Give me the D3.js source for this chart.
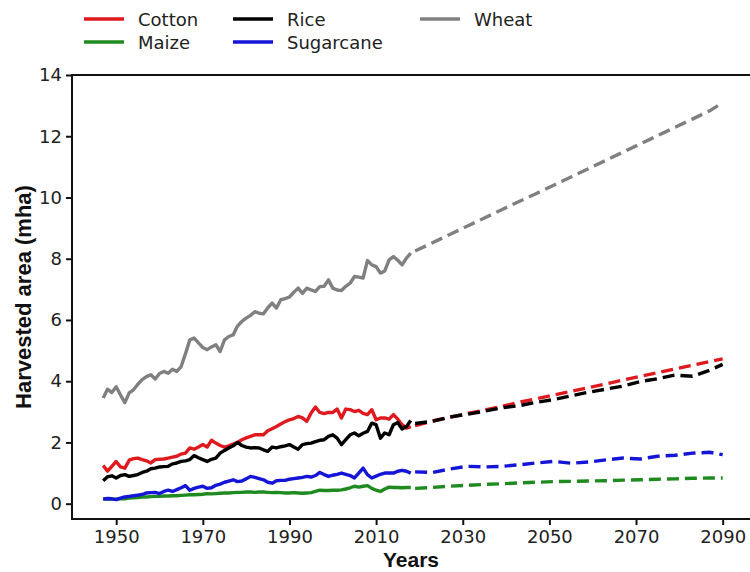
<!DOCTYPE html>
<html lang="en">
<style>
body { margin: 0; background: #fff; }
.tick text { font-family: "DejaVu Sans", sans-serif; fill: #222; }
.axis-title { font-family: "Liberation Sans", Arial, sans-serif; font-weight: bold; fill: #111; }
.legend text { font-family: "DejaVu Sans", sans-serif; fill: #222; }
</style>
<head>
    <title>Harvested area</title>
    <script src="https://d3js.org/d3.v7.min.js"></script>
</head>
<body>
<div id="main"></div>
<script type="text/javascript">
    const width = 750;
    const height = 572;
    const plotLeft = 72;
    const plotRight = 753;
    const plotTop = 75;
    const plotBottom = 519;

    // observed years 1947-2018
    const histYears = d3.range(1947, 2019);
    const projYears = [2019, 2023, 2027, 2031, 2035, 2039, 2043, 2047, 2051, 2055, 2059, 2063, 2067, 2071, 2075, 2079, 2083, 2087, 2090];

    const seriesNames = ['Cotton', 'Maize', 'Rice', 'Sugarcane', 'Wheat'];
    const seriesColors = ['#de1a1e', '#1f8a1f', '#000000', '#1515d8', '#808080'];

    const cottonHist = [1.25, 1.06, 1.22, 1.38, 1.20, 1.16, 1.42, 1.47, 1.49, 1.44,
        1.40, 1.33, 1.44, 1.45, 1.46, 1.49, 1.52, 1.55, 1.62, 1.65,
        1.82, 1.78, 1.85, 1.93, 1.85, 2.07, 1.98, 1.90, 1.85, 1.89,
        1.95, 2.00, 2.09, 2.15, 2.20, 2.25, 2.25, 2.25, 2.38, 2.45,
        2.52, 2.60, 2.68, 2.74, 2.78, 2.85, 2.80, 2.69, 2.96, 3.16,
        2.98, 2.94, 2.98, 2.98, 3.09, 2.80, 3.09, 3.07, 3.01, 3.05,
        2.95, 2.91, 3.07, 2.74, 2.80, 2.80, 2.76, 2.91, 2.76, 2.58,
        2.47, 2.52];
    const maizeHist = [0.15, 0.16, 0.15, 0.15, 0.16, 0.16, 0.18, 0.19, 0.20, 0.22,
        0.22, 0.23, 0.24, 0.24, 0.25, 0.25, 0.26, 0.26, 0.27, 0.28,
        0.29, 0.29, 0.30, 0.31, 0.33, 0.32, 0.33, 0.34, 0.35, 0.35,
        0.36, 0.37, 0.37, 0.38, 0.38, 0.37, 0.38, 0.38, 0.37, 0.36,
        0.37, 0.36, 0.35, 0.35, 0.36, 0.35, 0.34, 0.35, 0.36, 0.40,
        0.44, 0.43, 0.43, 0.44, 0.44, 0.45, 0.48, 0.52, 0.57, 0.54,
        0.57, 0.59, 0.50, 0.44, 0.40, 0.48, 0.54, 0.53, 0.53, 0.52,
        0.53, 0.53];
    const riceHist = [0.75, 0.88, 0.91, 0.84, 0.92, 0.95, 0.89, 0.92, 0.95, 1.02,
        1.06, 1.14, 1.16, 1.20, 1.21, 1.22, 1.30, 1.33, 1.38, 1.40,
        1.44, 1.57, 1.50, 1.44, 1.38, 1.45, 1.49, 1.65, 1.74, 1.82,
        1.89, 2.00, 1.90, 1.85, 1.82, 1.83, 1.82, 1.76, 1.71, 1.85,
        1.82, 1.86, 1.89, 1.93, 1.85, 1.78, 1.93, 1.96, 1.98, 2.03,
        2.07, 2.09, 2.20, 2.25, 2.14, 1.93, 2.09, 2.25, 2.31, 2.22,
        2.30, 2.36, 2.63, 2.58, 2.14, 2.31, 2.25, 2.58, 2.65, 2.44,
        2.52, 2.72];
    const sugarcaneHist = [0.15, 0.17, 0.16, 0.13, 0.18, 0.22, 0.24, 0.26, 0.28, 0.30,
        0.35, 0.36, 0.37, 0.33, 0.40, 0.44, 0.40, 0.46, 0.52, 0.59,
        0.44, 0.50, 0.54, 0.57, 0.50, 0.52, 0.60, 0.64, 0.70, 0.74,
        0.78, 0.72, 0.74, 0.81, 0.89, 0.86, 0.82, 0.78, 0.70, 0.67,
        0.75, 0.76, 0.76, 0.80, 0.82, 0.84, 0.86, 0.89, 0.87, 0.92,
        1.02, 0.95, 0.89, 0.93, 0.96, 1.00, 0.96, 0.92, 0.84, 1.00,
        1.16, 0.95, 0.84, 0.90, 0.96, 1.00, 1.00, 1.00, 1.06, 1.09,
        1.06, 1.00];
    const wheatHist = [3.45, 3.74, 3.63, 3.82, 3.55, 3.30, 3.62, 3.72, 3.90, 4.05,
        4.15, 4.21, 4.07, 4.25, 4.32, 4.26, 4.39, 4.32, 4.48, 4.90,
        5.35, 5.41, 5.25, 5.10, 5.03, 5.12, 5.19, 4.97, 5.35, 5.46,
        5.51, 5.80, 5.95, 6.06, 6.15, 6.27, 6.22, 6.20, 6.40, 6.55,
        6.39, 6.66, 6.70, 6.75, 6.90, 7.04, 6.87, 7.04, 6.98, 6.93,
        7.09, 7.10, 7.31, 7.04, 6.98, 6.96, 7.10, 7.20, 7.42, 7.40,
        7.37, 7.94, 7.80, 7.74, 7.53, 7.60, 7.96, 8.07, 7.95, 7.80,
        8.02, 8.18];

    // projections 2019-2090
    const cottonProj = [2.55, 2.70, 2.82, 2.94, 3.06, 3.18, 3.31, 3.43, 3.55, 3.67, 3.79, 3.91, 4.04, 4.16, 4.28, 4.40, 4.52, 4.64, 4.73];
    const maizeProj = [0.50, 0.53, 0.57, 0.60, 0.63, 0.65, 0.68, 0.70, 0.72, 0.73, 0.74, 0.75, 0.77, 0.78, 0.80, 0.81, 0.83, 0.84, 0.84];
    const riceProj = [2.62, 2.69, 2.83, 2.92, 3.02, 3.13, 3.20, 3.31, 3.40, 3.52, 3.64, 3.74, 3.84, 3.99, 4.08, 4.20, 4.16, 4.36, 4.55];
    const sugarcaneProj = [1.04, 1.02, 1.13, 1.22, 1.20, 1.22, 1.27, 1.33, 1.38, 1.32, 1.36, 1.43, 1.49, 1.46, 1.55, 1.58, 1.65, 1.68, 1.60];
    const wheatProj = [8.25, 8.52, 8.79, 9.06, 9.33, 9.60, 9.87, 10.13, 10.40, 10.67, 10.94, 11.21, 11.48, 11.75, 12.02, 12.29, 12.56, 12.83, 13.10];

    const histValues = [cottonHist, maizeHist, riceHist, sugarcaneHist, wheatHist];
    const projValues = [cottonProj, maizeProj, riceProj, sugarcaneProj, wheatProj];

    const xTicks = [1950, 1970, 1990, 2010, 2030, 2050, 2070, 2090];
    const yTicks = [0, 2, 4, 6, 8, 10, 12, 14];

    const svg = d3.select('#main')
        .append('svg')
        .attr('width', width)
        .attr('height', height);

    const xScale = d3.scaleLinear()
        .domain([1939.8, 2097])
        .range([plotLeft, plotRight]);

    const yScale = d3.scaleLinear()
        .domain([-0.5, 14])
        .range([plotBottom, plotTop]);

    svg.append('clipPath')
        .attr('id', 'plotClip')
        .append('rect')
        .attr('x', plotLeft)
        .attr('y', plotTop)
        .attr('width', plotRight - plotLeft)
        .attr('height', plotBottom - plotTop);

    const line = d3.line()
        .x(d => xScale(d[0]))
        .y(d => yScale(d[1]));

    const lines = svg.append('g').attr('clip-path', 'url(#plotClip)');

    seriesNames.forEach((name, i) => {
        lines.append('path')
            .datum(histYears.map((yr, j) => [yr, histValues[i][j]]))
            .attr('d', line)
            .attr('fill', 'none')
            .attr('stroke', seriesColors[i])
            .attr('stroke-width', 3.4)
            .attr('stroke-linejoin', 'round');
        lines.append('path')
            .datum(projYears.map((yr, j) => [yr, projValues[i][j]]))
            .attr('d', line)
            .attr('fill', 'none')
            .attr('stroke', seriesColors[i])
            .attr('stroke-width', 3.4)
            .attr('stroke-dasharray', '12,6');
    });

    // axes
    const xAxis = d3.axisBottom(xScale)
        .tickValues(xTicks)
        .tickFormat(d => d)
        .tickSize(6)
        .tickPadding(5);

    const yAxis = d3.axisLeft(yScale)
        .tickValues(yTicks)
        .tickSize(6)
        .tickPadding(4);

    const gx = svg.append('g')
        .attr('transform', `translate(0, ${plotBottom})`)
        .call(xAxis);
    const gy = svg.append('g')
        .attr('transform', `translate(${plotLeft}, 0)`)
        .call(yAxis);

    [gx, gy].forEach(g => {
        g.select('.domain').remove();
        g.selectAll('.tick line').attr('stroke', '#111').attr('stroke-width', 2);
        g.selectAll('.tick text').attr('font-size', 18);
    });

    // frame
    svg.append('rect')
        .attr('x', plotLeft)
        .attr('y', plotTop)
        .attr('width', plotRight - plotLeft)
        .attr('height', plotBottom - plotTop)
        .attr('fill', 'none')
        .attr('stroke', '#111')
        .attr('stroke-width', 2);

    svg.append('text')
        .attr('class', 'axis-title')
        .attr('x', (plotLeft + 750) / 2)
        .attr('y', 567)
        .attr('text-anchor', 'middle')
        .attr('font-size', 21)
        .text('Years');

    svg.append('text')
        .attr('class', 'axis-title')
        .attr('transform', `translate(31, ${(plotTop + plotBottom) / 2}) rotate(-90)`)
        .attr('text-anchor', 'middle')
        .attr('font-size', 22)
        .text('Harvested area (mha)');

    // legend, filled column by column
    const legendCols = [84, 233, 420];
    const legendRows = [19, 42];
    const legend = svg.append('g').attr('class', 'legend');
    seriesNames.forEach((name, i) => {
        const lx = legendCols[Math.floor(i / 2)];
        const ly = legendRows[i % 2];
        legend.append('line')
            .attr('x1', lx)
            .attr('x2', lx + 40)
            .attr('y1', ly)
            .attr('y2', ly)
            .attr('stroke', seriesColors[i])
            .attr('stroke-width', 3.5);
        legend.append('text')
            .attr('x', lx + 54)
            .attr('y', ly + 7)
            .attr('font-size', 18)
            .text(name);
    });

</script>
</body>
</html>
